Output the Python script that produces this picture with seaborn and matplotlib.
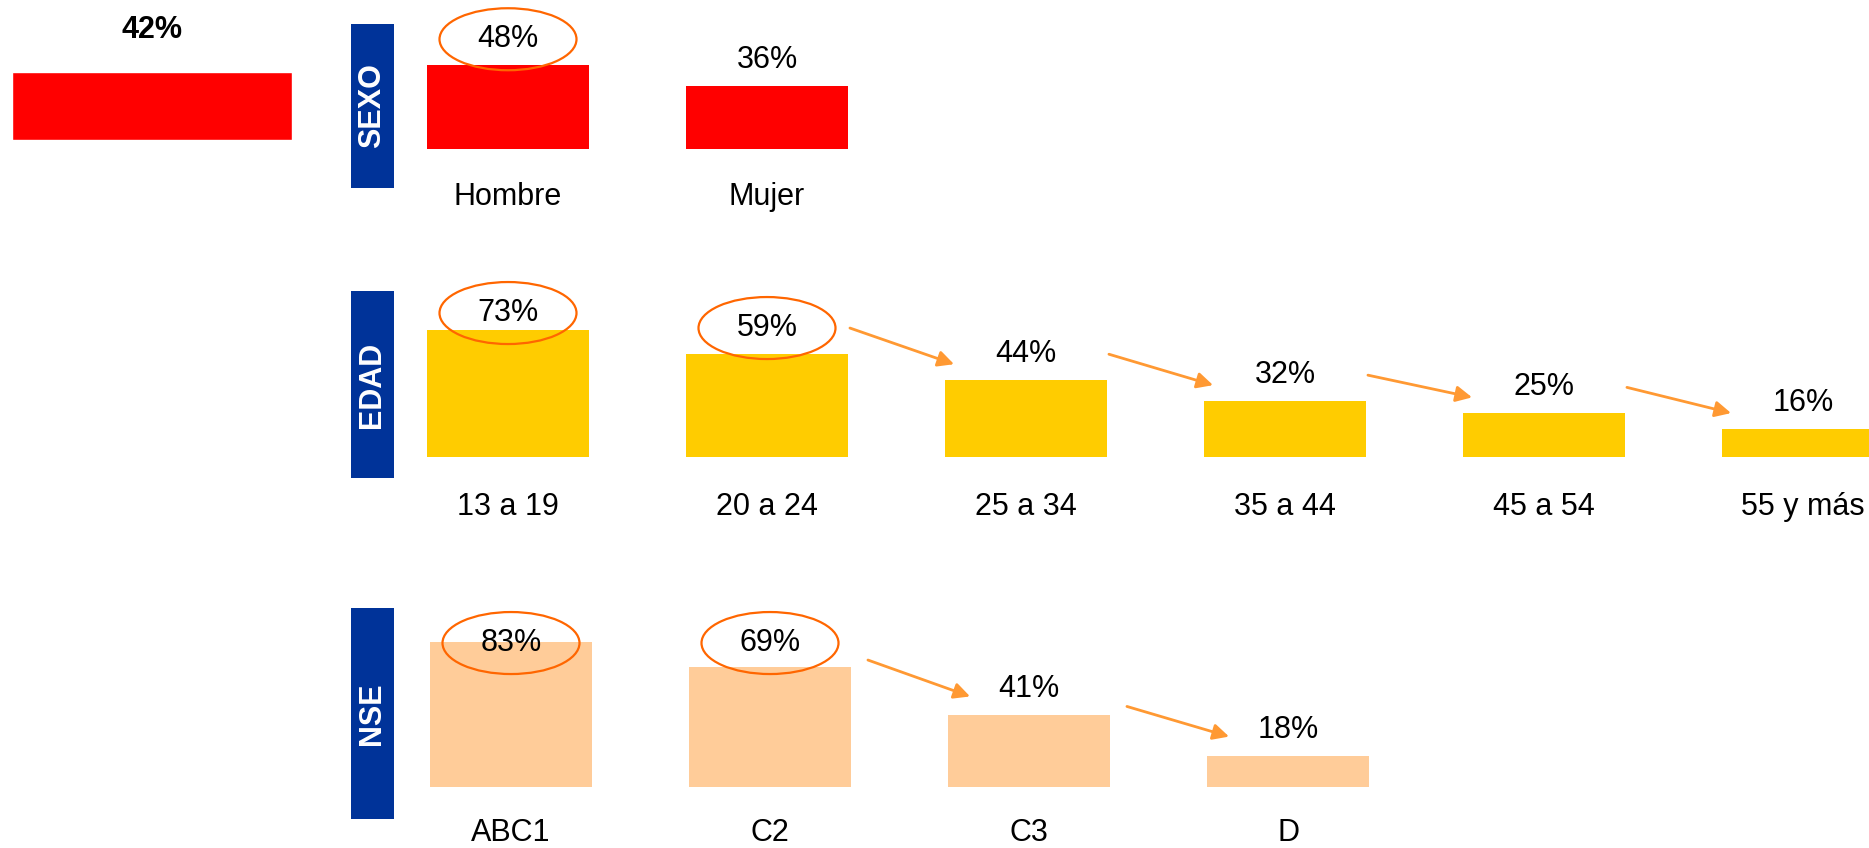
import matplotlib
matplotlib.use("Agg")
import matplotlib.pyplot as plt
import seaborn as sns
import pandas as pd
from matplotlib.patches import Ellipse

# ---------------- data ----------------
total_label = "Total"
total_value = 42

sexo_cats = ["Hombre", "Mujer"]
sexo_vals = [48, 36]

edad_cats = ["13 a 19", "20 a 24", "25 a 34", "35 a 44", "45 a 54", "55 y más"]
edad_vals = [73, 59, 44, 32, 25, 16]

nse_cats = ["ABC1", "C2", "C3", "D"]
nse_vals = [83, 69, 41, 18]

row_titles = ["SEXO", "EDAD", "NSE"]

sexo_circled = ["Hombre"]
edad_circled = ["13 a 19", "20 a 24"]
nse_circled = ["ABC1", "C2"]

edad_arrows = [("20 a 24", "25 a 34"), ("25 a 34", "35 a 44"),
               ("35 a 44", "45 a 54"), ("45 a 54", "55 y más")]
nse_arrows = [("C2", "C3"), ("C3", "D")]

# ---------------- style ----------------
sns.set_style("white")
plt.rcParams["font.family"] = ["Liberation Sans", "DejaVu Sans"]
plt.rcParams["text.color"] = "black"
plt.rcParams["xtick.color"] = "black"
plt.rcParams["xtick.labelcolor"] = "black"

RED = "#FF0000"
YELLOW = "#FFCC00"
PEACH = "#FFCC99"
BLUE = "#003399"
RING = "#FF6600"
ARROW = "#FF9933"

W, H = 1869, 848
fig = plt.figure(figsize=(W / 100, H / 100), dpi=100)
fig.patch.set_facecolor("white")


def px_axes(x0, y_top, w, h):
    return fig.add_axes([x0 / W, 1 - (y_top + h) / H, w / W, h / H])


PX_X = 259.0      # pixels per category
PX_Y = 1.745      # pixels per percent
YTOP = 82.5       # plot-area top in percent (labels are capped here)
LABEL_OFF = 26.0  # px from bar top to label centre
BAR_W = 0.625
FS = 22


def draw_row(left_px, base_px, cats, vals, color, circled, arrows, arr, pad):
    h_px = YTOP * PX_Y
    ax = px_axes(left_px, base_px - h_px, W - left_px, h_px)
    df = pd.DataFrame({"cat": cats, "val": vals})
    sns.barplot(data=df, x="cat", y="val", color=color, saturation=1,
                width=BAR_W, ax=ax, errorbar=None)
    x0 = -(508 - 400) / PX_X
    ax.set_xlim(x0, x0 + (W - left_px) / PX_X)
    ax.set_ylim(0, YTOP)
    for p in ax.patches:
        p.set_clip_on(False)
        p.set_linewidth(0)
    ax.set_xlabel("")
    ax.set_ylabel("")
    ax.set_yticks([])
    for s in ax.spines.values():
        s.set_visible(False)
    ax.tick_params(axis="x", length=0, pad=pad, labelsize=FS,
                   labelcolor="black")
    ax.patch.set_alpha(0)

    ly = [min(v + LABEL_OFF / PX_Y, YTOP) for v in vals]
    for i, v in enumerate(vals):
        ax.text(i, ly[i], f"{v}%", ha="center", va="center", fontsize=FS,
                color="black", clip_on=False)
    for c in circled:
        i = cats.index(c)
        ax.add_patch(Ellipse((i, ly[i]), 137 / PX_X, 62 / PX_Y, fill=False,
                             edgecolor=RING, lw=1.6, clip_on=False))
    sdx, sdy, tdx, tdy = arr
    for a, b in arrows:
        i, j = cats.index(a), cats.index(b)
        start = (i + BAR_W / 2 + sdx / PX_X, ly[i] + sdy / PX_Y)
        tip = (j - BAR_W / 2 + tdx / PX_X, ly[j] + tdy / PX_Y)
        ax.annotate("", xy=tip, xytext=start, xycoords="data",
                    textcoords="data", annotation_clip=False,
                    arrowprops=dict(arrowstyle="-|>", color=ARROW, lw=2.0,
                                    mutation_scale=24, shrinkA=0, shrinkB=0))
    return ax


# ---------------- total bar ----------------
PX_YT = 68 / 42.0
t_top = 70
axt = px_axes(12, 140 - t_top * PX_YT, 280, t_top * PX_YT)
sns.barplot(x=[total_label], y=[total_value], color=RED, saturation=1,
            width=1.0, ax=axt, errorbar=None)
axt.set_xlim(-0.5, 0.5)
axt.set_ylim(0, t_top)
axt.set_axis_off()
axt.text(0, total_value + 42 / PX_YT, f"{total_value}%", ha="center",
         va="center", fontsize=FS, fontweight="bold", color="black")

# ---------------- rows ----------------
draw_row(400, 149, sexo_cats, sexo_vals, RED, sexo_circled, [], (0, 0, 0, 0), 24)
draw_row(400, 457, edad_cats, edad_vals, YELLOW, edad_circled, edad_arrows,
         (2, 0, 9, -10), 25)
draw_row(403, 787, nse_cats, nse_vals, PEACH, nse_circled, nse_arrows,
         (17, -17, 22, -7), 22)

# ---------------- blue side tags ----------------
for title, (top, bot) in zip(row_titles, [(24, 188), (291, 478), (608, 819)]):
    axb = px_axes(351, top, 43, bot - top)
    axb.set_facecolor(BLUE)
    axb.set_xticks([])
    axb.set_yticks([])
    for s in axb.spines.values():
        s.set_visible(False)
    axb.text(0.5, 0.5, title, rotation=90, ha="center", va="center",
             color="white", fontsize=FS, fontweight="bold",
             transform=axb.transAxes)

fig.savefig("out.png", dpi=100, facecolor="white")
